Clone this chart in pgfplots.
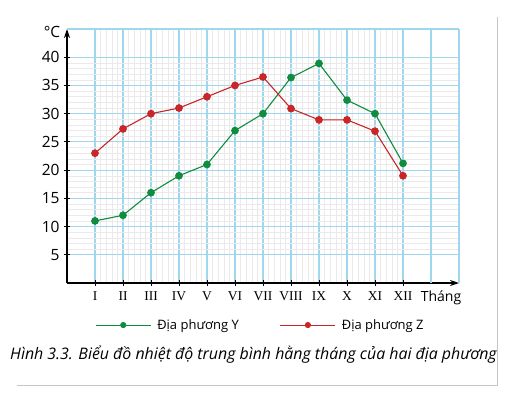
\documentclass[border=0pt]{standalone}
\usepackage{pgfplots}
\pgfplotsset{compat=1.18}
\usetikzlibrary{arrows.meta}
\usepackage{fontspec}
\setmainfont{Open Sans}
\newfontfamily\romanfont{Liberation Serif}
\definecolor{cgreen}{RGB}{16,140,64}
\definecolor{cred}{RGB}{200,38,40}
\definecolor{gridblue}{RGB}{160,214,238}
\definecolor{gridgray}{RGB}{234,234,234}
\begin{document}
\begin{tikzpicture}[x=1bp,y=1bp]
\begin{axis}[
  scale only axis, width=392bp, height=254bp,
  xmin=0, xmax=14, ymin=0, ymax=45,
  axis lines=left,
  axis line style={line width=1.1bp, -{Stealth[length=9bp,width=6bp]}},
  xtick={1,...,12},
  xticklabels={I,II,III,IV,V,VI,VII,VIII,IX,X,XI,XII},
  xticklabel style={font=\romanfont\fontsize{13.5bp}{14bp}\selectfont, yshift=-2bp},
  ytick={5,10,...,40},
  yticklabel style={font=\fontsize{15.5bp}{16bp}\selectfont, xshift=-1bp},
  /pgf/number format/assume math mode=true,
  extra x ticks={13,14}, extra x tick labels={},
  extra y ticks={45}, extra y tick labels={},
  extra tick style={major tick length=0pt, grid=major},
  grid=both,
  major grid style={gridblue, line width=1.2bp},
  minor grid style={gridgray, line width=0.5bp},
  minor x tick num=4, minor y tick num=4,
  minor tick length=0pt,
  major tick length=6bp,
  tick align=center,
  tick style={black, line width=0.8bp},
  legend columns=2,
  legend style={draw=none, fill=none, at={(axis cs:1,-7.45)}, anchor=west, inner sep=0pt,
    font=\fontsize{13bp}{14bp}\selectfont,
    /tikz/every even column/.append style={column sep=39bp}},
  legend image code/.code={\draw[#1, mark size=2.5bp] plot coordinates {(0bp,0bp) (27.5bp,0bp) (55bp,0bp)};
  },
  legend cell align=left,
  clip=false,
]
\addplot[cgreen, line width=1.1bp, mark=*, mark size=3.3bp,
  legend image post style={mark repeat=2, mark phase=2}] coordinates {
  (1,11) (2,12) (3,16) (4,19) (5,21) (6,27) (7,30) (8,36.4) (9,38.9) (10,32.4) (11,30) (12,21.2)};
\addlegendentry{\hspace{4bp}Địa phương Y}
\addplot[cred, line width=1.1bp, mark=*, mark size=3.3bp,
  legend image post style={mark repeat=2, mark phase=2}] coordinates {
  (1,23) (2,27.3) (3,30) (4,31) (5,33) (6,35) (7,36.5) (8,30.9) (9,28.9) (10,28.9) (11,26.9) (12,19)};
\addlegendentry{\hspace{4bp}Địa phương Z}
\end{axis}
\node[font=\fontsize{15.5bp}{16bp}\selectfont] at (-15,251) {°C};
\node[font=\fontsize{14bp}{15bp}\selectfont] at (374,-15) {Tháng};
\node[font=\itshape\fontsize{15.9bp}{16bp}\selectfont] at (186.5,-72) {Hình 3.3. Biểu đồ nhiệt độ trung bình hằng tháng của hai địa phương};
\draw[gray!45, line width=1bp] (430,266) -- (430,-102) -- (-50,-102);
\path[use as bounding box] (-67,-114) rectangle (440,283);
\end{tikzpicture}
\end{document}
